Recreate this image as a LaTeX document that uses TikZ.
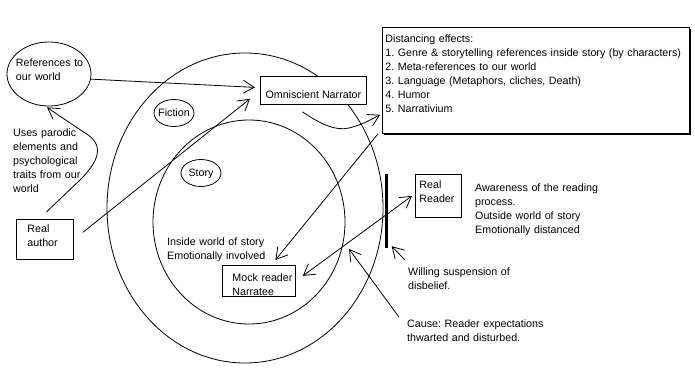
\documentclass[tikz,border=0pt]{standalone}
\usepackage{fontspec}
\setmainfont{Liberation Sans}
\usepackage{xcolor}
\usepackage{tikz}
\usetikzlibrary{positioning, arrows.meta, shapes.geometric, shadows}
\frenchspacing
\definecolor{ink}{HTML}{000000}
\definecolor{paper}{HTML}{FFFFFF}
\tikzset{
  box/.style    = {rectangle, draw=ink, line width=0.8pt, fill=paper,
                   inner ysep=0pt, align=left, font=\fontsize{10.7pt}{14pt}\selectfont},
  bubble/.style = {ellipse, draw=ink, line width=0.8pt, inner ysep=0pt,
                   text height=8pt, text depth=0pt, font=\fontsize{10.7pt}{14pt}\selectfont},
  note/.style   = {inner sep=0pt, anchor=base west, align=left,
                   font=\fontsize{10.7pt}{14pt}\selectfont},
  ar/.style     = {-{Straight Barb[length=11pt,width=13pt]}, line width=0.8pt, draw=ink},
  dar/.style    = {{Straight Barb[length=11pt,width=13pt]}-{Straight Barb[length=11pt,width=13pt]},
                   line width=0.8pt, draw=ink},
}

\begin{document}
\begin{tikzpicture}[x=1pt, y=-1pt,
    region/.style={ellipse, draw=ink, line width=0.8pt, inner sep=0pt},
  ]
  \useasboundingbox (0,0) rectangle (695,379);

  % worlds
  \node[region, minimum width=276pt, minimum height=310pt] (fictionworld) at (245,208) {};
  \node[region, minimum width=192pt, minimum height=204pt] (storyworld) at (249,222) {};
  \node[bubble, minimum width=40pt, minimum height=27pt, inner xsep=-2pt] (fiction) at (174,113) {Fiction};
  \node[bubble, minimum width=40pt, minimum height=27pt, inner xsep=0pt] (story) at (201,173) {Story};
  \node[bubble, minimum width=84pt, minimum height=64pt, inner xsep=-3.5pt, text width=66pt,
        align=left, text height=8pt, text depth=22pt] (refs) at (49,74) {\mbox{References to}\\our world};

  % boxes
  \node[box, anchor=north west, minimum width=106pt, minimum height=28pt,
        text height=22pt, text depth=6pt] (narr) at (260,76) {Omniscient Narrator};
  \node[box, anchor=north west, inner xsep=3pt, text width=301pt, text height=15pt, text depth=91pt,
        drop shadow={shadow xshift=1.5pt, shadow yshift=-1.5pt, fill=ink, opacity=1}] (dist) at (382,27)
       {Distancing effects:\\
        1. Genre \& storytelling references inside story (by characters)\\
        2. Meta-references to our world\\
        3. Language (Metaphors, cliches, Death)\\
        4. Humor\\
        5. Narrativium};
  \node[box, anchor=north west, inner xsep=4pt, text width=38pt,
        text height=14pt, text depth=29pt] (reader) at (415,174) {Real\\Reader};
  \node[box, anchor=north west, inner xsep=11pt, text width=35pt,
        text height=13pt, text depth=27pt] (author) at (16,219) {Real\\author};
  \node[box, anchor=north west, inner xsep=10pt, text width=53pt,
        text height=16pt, text depth=15pt] (mock) at (222,265) {\mbox{Mock reader}\\Narratee};
  \node[fill=ink, inner sep=0pt, minimum width=3pt, minimum height=74pt] (bar) at (386,211) {};

  % notes
  \node[note, text width=85pt] (parodic) at (13,137)
       {Uses parodic\\elements and\\psychological\\traits from our\\world};
  \node[note, text width=110pt] (inside) at (167,245) {Inside world of story\\Emotionally involved};
  \node[note, text width=160pt] (aware) at (475,192)
       {Awareness of the reading\\process.\\Outside world of story\\Emotionally distanced};
  \node[note, text width=130pt] (willing) at (408,275) {Willing suspension of\\disbelief.};
  \node[note, text width=160pt] (cause) at (407,327) {Cause: Reader expectations\\thwarted and disturbed.};
  \coordinate (gap) at (349,249);

  % connectors
  \draw[ar] (refs.-7) -- ([shift={(-5,-3)}]narr.west);
  \draw[ar] ([shift={(9,-7)}]author.east) -- ([shift={(-10,-6)}]narr.south west);
  \draw[ar] ([shift={(1.5,-7)}]author.north) -- (80,180)
            .. controls (104,156) and (102,142) .. (82,131) -- ([shift={(-2,1)}]refs.south);
  \draw[ar] ([shift={(-11,7)}]narr.south) .. controls (322,125) and (336,131) .. (349,128)
            .. controls (362,125) and (372,119) .. ([shift={(-2,-19)}]dist.south west);
  \draw[ar] ([shift={(-4,0)}]dist.south west) -- ([shift={(16.5,-5)}]mock.north);
  \draw[dar] ([shift={(7,-5)}]mock.east) -- ([shift={(-3,0)}]reader.west);
  \draw[ar] ([shift={(-3,-7)}]willing.north west) -- ([shift={(4,-2)}]bar.south east);
  \draw[ar] ([shift={(-8,-2)}]cause.north west) -- (gap);

\end{tikzpicture}
\end{document}
